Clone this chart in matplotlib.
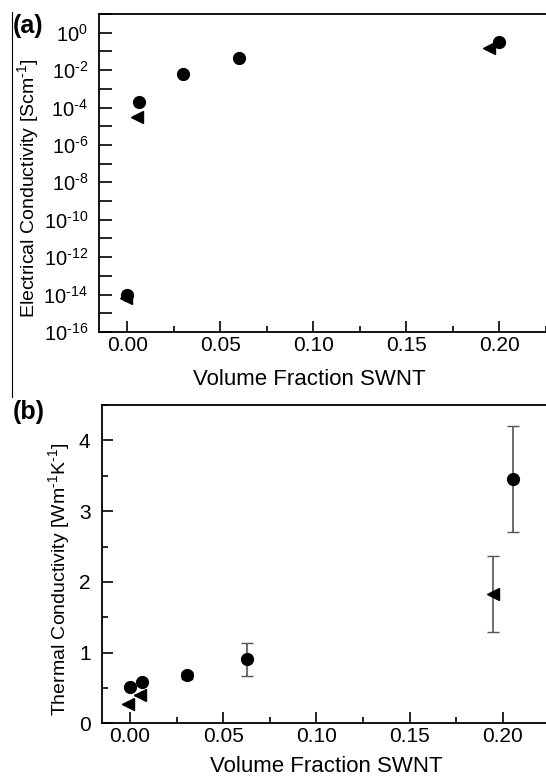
import math
import matplotlib.pyplot as plt
import matplotlib.ticker as mticker
from matplotlib.lines import Line2D

plt.rcParams['font.family'] = ['Liberation Sans', 'DejaVu Sans']
plt.rcParams['mathtext.fontset'] = 'custom'
plt.rcParams['mathtext.rm'] = 'Liberation Sans'
plt.rcParams['mathtext.it'] = 'Liberation Sans:italic'
plt.rcParams['mathtext.bf'] = 'Liberation Sans:bold'

# (a) electrical conductivity
elec_circ_x = [0.0, 0.006, 0.0298, 0.060, 0.200]
elec_circ_y = [1.0e-14, 1.9e-4, 6.3e-3, 4.4e-2, 3.2e-1]
elec_tri_x = [-0.001, 0.005, 0.1946]
elec_tri_y = [6.7e-15, 3.2e-5, 1.6e-1]

# (b) thermal conductivity
therm_circ_x = [0.0, 0.0062, 0.0308, 0.0627, 0.2055]
therm_circ_y = [0.51, 0.58, 0.68, 0.905, 3.46]
therm_circ_err = [0.0, 0.0, 0.05, 0.23, 0.75]
therm_tri_x = [-0.001, 0.0052, 0.1946]
therm_tri_y = [0.27, 0.40, 1.83]
therm_tri_err = [0.0, 0.0, 0.54]

xticks = [0.0, 0.05, 0.10, 0.15, 0.20]
xticklabels = ['0.00', '0.05', '0.10', '0.15', '0.20']


def pow_label(v, pos):
    n = round(math.log10(v))
    if n < 0:
        return r'10$^{\text{-}%d}$' % (-n)
    return r'10$^{%d}$' % n


def x_axis(ax):
    ax.set_xlim(-0.0152, 0.226)
    ax.set_xticks(xticks)
    ax.set_xticklabels(xticklabels)
    ax.xaxis.set_minor_locator(mticker.MultipleLocator(0.025))
    ax.tick_params(which='both', direction='in', width=1.2, top=False, right=False)
    ax.tick_params(axis='x', which='major', length=8, labelsize=15, pad=3)
    ax.tick_params(axis='x', which='minor', length=4)
    ax.set_xlabel('Volume Fraction SWNT', fontsize=16)
    for s in ax.spines.values():
        s.set_linewidth(1.3)


fig = plt.figure(figsize=(5.46, 7.78), dpi=100)
ax1 = fig.add_axes([0.1817, 0.5733, 0.8214, 0.4087])
ax2 = fig.add_axes([0.1863, 0.0703, 0.8234, 0.409])

# 1. electrical
ax1.set_yscale('log')
ax1.plot(elec_circ_x, elec_circ_y, 'o', color='k', ms=8.5, ls='none')
ax1.plot(elec_tri_x, elec_tri_y, '<', color='k', ms=8.5, ls='none')
ax1.set_ylim(1e-16, 1e1)
ax1.yaxis.set_major_locator(mticker.LogLocator(base=100, numticks=20))
ax1.yaxis.set_minor_locator(mticker.LogLocator(base=10, numticks=30))
ax1.yaxis.set_minor_formatter(mticker.NullFormatter())
ax1.yaxis.set_major_formatter(mticker.FuncFormatter(pow_label))
x_axis(ax1)
ax1.tick_params(axis='y', which='both', length=9)
ax1.tick_params(axis='y', labelsize=14.5, pad=8)
ax1.xaxis.set_label_coords(0.468, -0.115)
ax1.set_ylabel('Electrical Conductivity [Scm$^{\\text{-}1}$]', fontsize=14)
ax1.yaxis.set_label_coords(-0.129, 0.451)

# 2. thermal
ax2.errorbar(therm_circ_x, therm_circ_y, yerr=therm_circ_err, fmt='o',
             color='k', ms=8.5, ecolor='#555555', elinewidth=1.2, capsize=4)
ax2.errorbar(therm_tri_x, therm_tri_y, yerr=therm_tri_err, fmt='<',
             color='k', ms=8.5, ecolor='#555555', elinewidth=1.2, capsize=4)
ax2.set_ylim(0, 4.5)
ax2.set_yticks([0, 1, 2, 3, 4])
ax2.yaxis.set_minor_locator(mticker.MultipleLocator(0.5))
x_axis(ax2)
ax2.tick_params(axis='y', which='major', length=8, labelsize=15, pad=8)
ax2.tick_params(axis='y', which='minor', length=4)
ax2.xaxis.set_label_coords(0.499, -0.104)
ax2.set_ylabel('Thermal Conductivity [Wm$^{\\text{-}1}$K$^{\\text{-}1}$]', fontsize=14)
ax2.yaxis.set_label_coords(-0.065, 0.452)

fig.text(0.024, 0.966, '(a)', fontsize=18, fontweight='bold', ha='left', va='center')
fig.text(0.024, 0.4704, '(b)', fontsize=18, fontweight='bold', ha='left', va='center')
fig.add_artist(Line2D([0.0215, 0.0215], [1 - 12 / 778, 1 - 397 / 778],
                      transform=fig.transFigure, color='k', lw=0.8))

plt.savefig('out.png', dpi=100)
